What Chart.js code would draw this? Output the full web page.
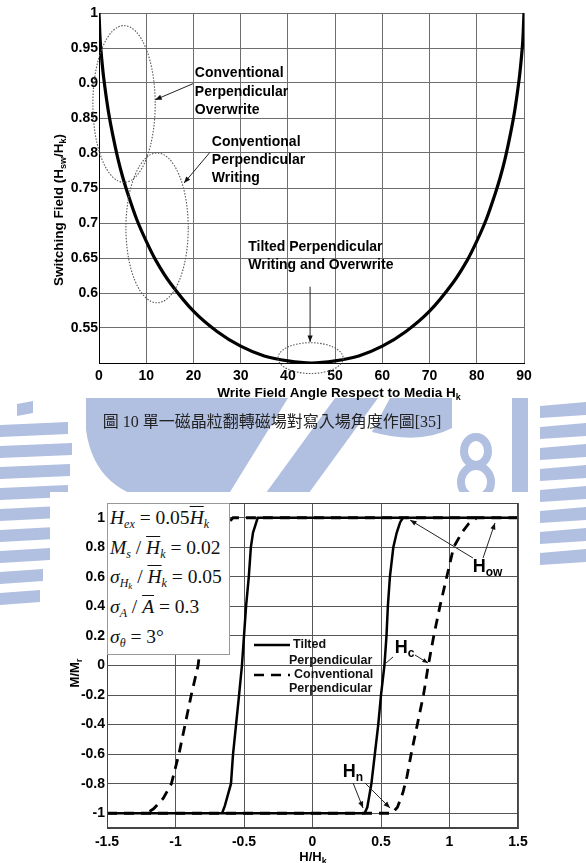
<!DOCTYPE html>
<html>
<head>
<meta charset="utf-8">
<script src="https://cdn.jsdelivr.net/npm/chart.js@4.4.1/dist/chart.umd.min.js"></script>
<style>
  html, body { margin: 0; padding: 0; background: #fff; }
  #page { position: relative; width: 586px; height: 863px; overflow: hidden; background: #fff; }
  #wm { position: absolute; left: 0; top: 0; }
  .box { position: absolute; background: #fff; }
  #topWrap { position: absolute; left: 0; top: 0; width: 586px; height: 405px; }
  #botWrap { position: absolute; left: 0; top: 480px; width: 586px; height: 383px; }
  #caption { position: absolute; top: 412px; left: 0; width: 544px; text-align: center;
    font: 16px/20px "Liberation Serif", "Noto Sans CJK TC"; color: #222; }
  #params { position: absolute; left: 107px; top: 503px; width: 123px; height: 152px; background: #fff;
    border: 1px solid #999; box-sizing: border-box; font-family: "Liberation Serif"; font-size: 19.5px; color: #111; }
  .pl { position: absolute; left: 2px; white-space: nowrap; line-height: 20px; }
  .sb { position: relative; top: 4px; font-size: 12px; }
  .sb2 { position: relative; top: 2px; font-size: 9px; }
  .ov { text-decoration: overline; }
</style>
</head>
<body>
<div id="page">
  <canvas id="wm" width="586" height="863"></canvas>
  <div class="box" style="left:20px;top:0;width:566px;height:398px"></div>
  <div class="box" style="left:50px;top:492px;width:482px;height:371px"></div>
  <div id="topWrap"><canvas id="topChart" width="586" height="405"></canvas></div>
  <div id="caption">圖 10 單一磁晶粒翻轉磁場對寫入場角度作圖[35]</div>
  <div id="botWrap"><canvas id="botChart" width="586" height="383"></canvas></div>
  <div id="params">
    <div class="pl" style="top:4px"><i>H</i><span class="sb"><i>ex</i></span> = 0.05<i class="ov">H</i><span class="sb"><i>k</i></span></div>
    <div class="pl" style="top:34px"><i>M</i><span class="sb"><i>s</i></span> / <i class="ov">H</i><span class="sb"><i>k</i></span> = 0.02</div>
    <div class="pl" style="top:63px"><i>σ</i><span class="sb"><i>H</i><span class="sb2"><i>k</i></span></span> / <i class="ov">H</i><span class="sb"><i>k</i></span> = 0.05</div>
    <div class="pl" style="top:93px"><i>σ</i><span class="sb"><i>A</i></span> / <i class="ov">A</i> = 0.3</div>
    <div class="pl" style="top:123px"><i>σ</i><span class="sb"><i>θ</i></span> = 3°</div>
  </div>
</div>
<script>
// ---- 상단: 단일 입자 스위칭 필드 vs 기록 자계 각도 ----
const topAngle = [0, 0.25, 0.5, 1, 2, 3, 4, 5, 6, 8, 10, 12, 15, 20, 25, 30, 35, 40, 45,
  50, 55, 60, 65, 70, 75, 78, 80, 82, 84, 85, 86, 87, 88, 89, 89.5, 89.75, 90];
const topField = [1.0, 0.961, 0.94, 0.907, 0.859, 0.823, 0.792, 0.766, 0.744, 0.705, 0.674, 0.647, 0.615, 0.574, 0.545, 0.524, 0.510, 0.503, 0.500,
  0.503, 0.510, 0.524, 0.545, 0.574, 0.615, 0.647, 0.674, 0.705, 0.744, 0.766, 0.792, 0.823, 0.859, 0.907, 0.94, 0.961, 1.0];
const topXTicks = [0, 10, 20, 30, 40, 50, 60, 70, 80, 90];
const topYTicks = [0.55, 0.6, 0.65, 0.7, 0.75, 0.8, 0.85, 0.9, 0.95, 1];

// ---- 하단: 히스테리시스 루프 (M/Mr vs H/Hk) ----
const tiltUpH = [-1.5, 0.38, 0.40, 0.43, 0.455, 0.48, 0.50, 0.525, 0.54, 0.55, 0.565, 0.59, 0.615, 0.64, 0.66, 1.5];
const tiltUpM = [-1, -1, -0.96, -0.8, -0.6, -0.4, -0.2, 0, 0.2, 0.4, 0.6, 0.8, 0.9, 0.97, 1, 1];
const tiltDownH = [0.66, -0.40, -0.434, -0.45, -0.465, -0.485, -0.50, -0.515, -0.536, -0.558, -0.58, -0.595, -0.64, -0.66];
const tiltDownM = [1, 1, 0.9, 0.8, 0.6, 0.4, 0.2, 0, -0.2, -0.4, -0.6, -0.8, -0.95, -1];
const convUpH = [-1.5, 0.58, 0.62, 0.66, 0.69, 0.72, 0.765, 0.81, 0.845, 0.885, 0.93, 0.98, 1.03, 1.09, 1.14, 1.2, 1.5];
const convUpM = [-1, -1, -0.96, -0.86, -0.75, -0.6, -0.4, -0.2, 0, 0.2, 0.4, 0.6, 0.8, 0.9, 0.96, 1, 1];
const convDownH = [1.2, -0.58, -0.62, -0.66, -0.69, -0.72, -0.765, -0.81, -0.835, -0.885, -0.93, -0.975, -1.03, -1.09, -1.16, -1.21];
const convDownM = [1, 1, 0.96, 0.86, 0.75, 0.6, 0.4, 0.2, 0, -0.2, -0.4, -0.6, -0.8, -0.9, -0.97, -1];
const botXTicks = [-1.5, -1, -0.5, 0, 0.5, 1, 1.5];
const botYTicks = [-1, -0.8, -0.6, -0.4, -0.2, 0, 0.2, 0.4, 0.6, 0.8, 1];

const FONT = '"Liberation Sans", Arial, sans-serif';
const tickFont = { family: FONT, size: 14, weight: "bold" };

const pts = (xs, ys) => xs.map((x, i) => ({ x, y: ys[i] }));
// 올라가는 가지 + 끊김 + 내려가는 가지
const loop = (ux, uy, dx, dy) => [...pts(ux, uy), { x: ux[ux.length - 1], y: null }, ...pts(dx, dy)];

// 첨자 섞인 텍스트 그리기 (축 제목, 라벨용)
function rich(ctx, parts, x, y, size, opt = {}) {
  ctx.save();
  ctx.translate(x, y);
  if (opt.rot) ctx.rotate(opt.rot);
  const big = `bold ${size}px ${FONT}`, small = `bold ${opt.sub || Math.round(size * 0.7)}px ${FONT}`;
  let w = 0;
  parts.forEach(p => { ctx.font = p[1] ? small : big; w += ctx.measureText(p[0]).width; });
  let xx = opt.left ? 0 : -w / 2;
  ctx.textBaseline = "middle"; ctx.textAlign = "left"; ctx.fillStyle = "#000";
  parts.forEach(p => {
    ctx.font = p[1] ? small : big;
    ctx.fillText(p[0], xx, p[1] ? size * 0.32 : 0);
    xx += ctx.measureText(p[0]).width;
  });
  ctx.restore();
}

function arrow(ctx, x1, y1, x2, y2, head = 7) {
  ctx.beginPath(); ctx.moveTo(x1, y1); ctx.lineTo(x2, y2); ctx.stroke();
  const a = Math.atan2(y2 - y1, x2 - x1);
  ctx.beginPath(); ctx.moveTo(x2, y2);
  ctx.lineTo(x2 - head * Math.cos(a - 0.38), y2 - head * Math.sin(a - 0.38));
  ctx.lineTo(x2 - head * Math.cos(a + 0.38), y2 - head * Math.sin(a + 0.38));
  ctx.closePath(); ctx.fill();
}

/* ===== 워터마크 (배경 장식) ===== */
(function drawWatermark() {
  const ctx = document.getElementById("wm").getContext("2d");
  ctx.fillStyle = "#b1bfe0"; ctx.strokeStyle = "#b1bfe0";
  // 왼쪽 줄무늬
  const stripeW = [33, 68, 72, 70, 68, 60, 55, 50, 43, 40];
  stripeW.forEach((w, i) => {
    const y = 401 + i * 21;
    ctx.beginPath();
    ctx.moveTo(i === 0 ? 17 : 0, y + 3); ctx.lineTo(w, y); ctx.lineTo(w, y + 12); ctx.lineTo(i === 0 ? 17 : 0, y + 15);
    ctx.closePath(); ctx.fill();
  });
  // 큰 돔
  ctx.beginPath();
  ctx.moveTo(86, 398); ctx.lineTo(86, 430);
  ctx.quadraticCurveTo(95, 495, 165, 502);
  ctx.lineTo(222, 505); ctx.lineTo(288, 398); ctx.closePath(); ctx.fill();
  // 대각선 띠
  ctx.beginPath();
  ctx.moveTo(255, 508); ctx.lineTo(298, 508); ctx.lineTo(378, 398); ctx.lineTo(335, 398); ctx.closePath(); ctx.fill();
  // 오른쪽 덩어리
  ctx.beginPath();
  ctx.moveTo(390, 398); ctx.lineTo(452, 398); ctx.lineTo(452, 428);
  ctx.quadraticCurveTo(420, 445, 372, 432); ctx.closePath(); ctx.fill();
  // "8"
  ctx.lineWidth = 8;
  ctx.beginPath(); ctx.ellipse(476, 451, 12, 14, 0, 0, Math.PI * 2); ctx.stroke();
  ctx.beginPath(); ctx.ellipse(476, 482, 15, 16, 0, 0, Math.PI * 2); ctx.stroke();
  // 세로 막대
  ctx.fillRect(512, 398, 16, 108);
  // 오른쪽 줄무늬
  for (let i = 0; i < 8; i++) {
    const y = 402 + i * 21;
    ctx.beginPath();
    ctx.moveTo(540, y + 4); ctx.lineTo(586, y); ctx.lineTo(586, y + 13); ctx.lineTo(540, y + 16);
    ctx.closePath(); ctx.fill();
  }
})();

/* ===== 상단 차트 ===== */
const topNotes = {
  id: "topNotes",
  afterDraw(c) {
    const { ctx, scales: { x, y } } = c;
    const px = v => x.getPixelForValue(v), py = v => y.getPixelForValue(v);
    ctx.save();
    // 점선 타원 (중심 각도, 중심 값, 반경 각도, 반경 값)
    ctx.strokeStyle = "#555"; ctx.lineWidth = 1.1; ctx.setLineDash([1.5, 1.5]);
    [[5.3, 0.87, 6.6, 0.112], [12.3, 0.693, 6.6, 0.107], [44.8, 0.507, 6.9, 0.022]].forEach(e => {
      ctx.beginPath();
      ctx.ellipse(px(e[0]), py(e[1]), px(e[0] + e[2]) - px(e[0]), py(e[1]) - py(e[1] + e[3]), 0, 0, Math.PI * 2);
      ctx.stroke();
    });
    ctx.setLineDash([]);
    ctx.strokeStyle = "#222"; ctx.fillStyle = "#111"; ctx.lineWidth = 1;
    arrow(ctx, px(19.9), py(0.899), px(11.9), py(0.876));
    arrow(ctx, px(23.5), py(0.801), px(18.0), py(0.757));
    arrow(ctx, px(44.7), py(0.609), px(44.7), py(0.530));
    // 주석 글자
    ctx.font = `bold 14px ${FONT}`; ctx.fillStyle = "#000"; ctx.textBaseline = "middle"; ctx.textAlign = "left";
    [["Conventional", 20.3, 0.914], ["Perpendicular", 20.3, 0.887], ["Overwrite", 20.3, 0.861],
     ["Conventional", 23.9, 0.816], ["Perpendicular", 23.9, 0.790], ["Writing", 23.9, 0.764],
     ["Tilted Perpendicular", 31.6, 0.666], ["Writing and Overwrite", 31.6, 0.640]]
      .forEach(t => ctx.fillText(t[0], px(t[1]), py(t[2])));
    // 축 제목
    rich(ctx, [["Switching Field (H", 0], ["sw", 1], ["/H", 0], ["k", 1], [")", 0]], 59, 210, 13.5, { rot: -Math.PI / 2 });
    rich(ctx, [["Write Field Angle Respect to Media H", 0], ["k", 1]], 339, 393, 13.5);
    ctx.restore();
  }
};

new Chart(document.getElementById("topChart"), {
  type: "line",
  data: { datasets: [{ data: pts(topAngle, topField), borderColor: "#000", borderWidth: 3.2, pointRadius: 0, tension: 0.3, fill: false }] },
  options: {
    responsive: false, animation: false, events: [],
    layout: { padding: { left: 40, right: 62, top: 13, bottom: 0 } },
    plugins: { legend: { display: false }, tooltip: { enabled: false } },
    scales: {
      x: {
        type: "linear", min: 0, max: 90,
        afterBuildTicks: s => { s.ticks = topXTicks.map(v => ({ value: v })); },
        afterFit: s => { s.height = 42; },
        ticks: { font: tickFont, color: "#000", padding: 5, maxRotation: 0 },
        grid: { color: "#6e6e6e", lineWidth: 1, drawTicks: false },
        border: { color: "#000", width: 1 }
      },
      y: {
        type: "linear", min: 0.5, max: 1,
        afterBuildTicks: s => { s.ticks = topYTicks.map(v => ({ value: v })); },
        afterFit: s => { s.width = 59; },
        ticks: { font: tickFont, color: "#000", padding: 1, callback: v => String(+v.toFixed(2)) },
        grid: { color: "#6e6e6e", lineWidth: 1, drawTicks: false },
        border: { color: "#000", width: 1 }
      }
    }
  },
  plugins: [topNotes]
});

/* ===== 하단 차트 ===== */
const botNotes = {
  id: "botNotes",
  afterDraw(c) {
    const { ctx, chartArea: a, scales: { x, y } } = c;
    const px = v => x.getPixelForValue(v), py = v => y.getPixelForValue(v);
    ctx.save();
    ctx.strokeStyle = "#444"; ctx.lineWidth = 1;
    ctx.strokeRect(a.left + 0.5, a.top + 0.5, a.right - a.left - 1, a.bottom - a.top - 1);
    // 범례
    ctx.strokeStyle = "#000"; ctx.lineWidth = 2.5;
    ctx.beginPath(); ctx.moveTo(254, 165); ctx.lineTo(290, 165); ctx.stroke();
    ctx.setLineDash([10, 7]);
    ctx.beginPath(); ctx.moveTo(254, 195); ctx.lineTo(290, 195); ctx.stroke();
    ctx.setLineDash([]);
    ctx.font = `bold 12.5px ${FONT}`; ctx.fillStyle = "#111"; ctx.textBaseline = "middle"; ctx.textAlign = "left";
    ctx.fillText("Tilted", 293, 165); ctx.fillText("Perpendicular", 289, 181);
    ctx.fillText("Conventional", 294, 195); ctx.fillText("Perpendicular", 289, 209);
    // 화살표
    ctx.strokeStyle = "#222"; ctx.fillStyle = "#111"; ctx.lineWidth = 1;
    ctx.beginPath(); ctx.moveTo(px(0.588), py(0.058)); ctx.lineTo(px(0.537), py(0.017)); ctx.stroke();
    arrow(ctx, px(0.748), py(0.071), px(0.843), py(0.017), 6);
    arrow(ctx, px(1.171), py(0.728), px(0.712), py(0.985));
    arrow(ctx, px(1.245), py(0.728), px(1.332), py(0.965));
    arrow(ctx, px(0.296), py(-0.795), px(0.369), py(-0.965));
    arrow(ctx, px(0.383), py(-0.795), px(0.566), py(-0.965));
    // H 라벨
    rich(ctx, [["H", 0], ["c", 1]], px(0.6), py(0.118), 18, { left: true, sub: 12 });
    rich(ctx, [["H", 0], ["ow", 1]], px(1.17), py(0.667), 18, { left: true, sub: 12 });
    rich(ctx, [["H", 0], ["n", 1]], px(0.22), py(-0.72), 18, { left: true, sub: 12 });
    // 축 제목
    rich(ctx, [["H/H", 0], ["k", 1]], 313, 377, 13);
    rich(ctx, [["M/M", 0], ["r", 1]], 75, 193, 13, { rot: -Math.PI / 2 });
    ctx.restore();
  }
};

new Chart(document.getElementById("botChart"), {
  type: "line",
  data: {
    datasets: [
      { label: "Tilted Perpendicular", data: loop(tiltUpH, tiltUpM, tiltDownH, tiltDownM),
        borderColor: "#000", borderWidth: 2.5, pointRadius: 0, fill: false, spanGaps: false },
      { label: "Conventional Perpendicular", data: loop(convUpH, convUpM, convDownH, convDownM),
        borderColor: "#000", borderWidth: 2.8, borderDash: [10, 7], pointRadius: 0, fill: false, spanGaps: false }
    ]
  },
  options: {
    responsive: false, animation: false, events: [],
    layout: { padding: { left: 50, right: 68, top: 23, bottom: 0 } },
    plugins: { legend: { display: false }, tooltip: { enabled: false } },
    scales: {
      x: {
        type: "linear", min: -1.5, max: 1.5,
        afterBuildTicks: s => { s.ticks = botXTicks.map(v => ({ value: v })); },
        afterFit: s => { s.height = 35; },
        ticks: { font: tickFont, color: "#000", padding: 6, maxRotation: 0, callback: v => String(v) },
        grid: { color: "#555", lineWidth: 1, drawTicks: false },
        border: { color: "#444", width: 1 }
      },
      y: {
        type: "linear", min: -1.1, max: 1.1,
        afterBuildTicks: s => { s.ticks = botYTicks.map(v => ({ value: v })); },
        afterFit: s => { s.width = 57; },
        ticks: { font: tickFont, color: "#000", padding: 2, callback: v => String(+v.toFixed(1)) },
        grid: { color: "#555", lineWidth: 1, drawTicks: false },
        border: { color: "#444", width: 1 }
      }
    }
  },
  plugins: [botNotes]
});
</script>
</body>
</html>
